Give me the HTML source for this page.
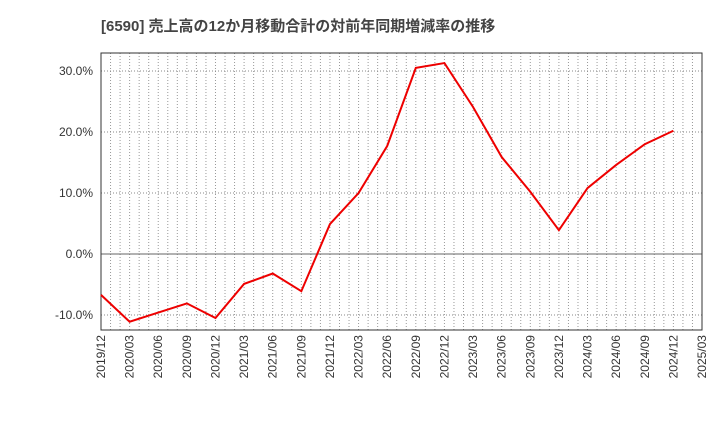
<!DOCTYPE html>
<html><head><meta charset="utf-8"><style>
body{margin:0;background:#fff;font-family:"Liberation Sans","Noto Sans CJK JP",sans-serif}
</style></head><body>
<svg width="720" height="440" xmlns="http://www.w3.org/2000/svg">
<text x="101" y="31" font-size="15" font-weight="bold" fill="#444" font-family="Liberation Sans,Noto Sans CJK JP,sans-serif">[6590]  売上高の12か月移動合計の対前年同期増減率の推移</text>
<g id="grid"></g><g id="axes"></g>
<path id="line" fill="none" stroke="#e00" stroke-width="2"/>
</svg>
<script>
const categories=["2019/12","2020/03","2020/06","2020/09","2020/12","2021/03","2021/06","2021/09","2021/12","2022/03","2022/06","2022/09","2022/12","2023/03","2023/06","2023/09","2023/12","2024/03","2024/06","2024/09","2024/12","2025/03"];
const values=[-6.7,-11.1,-9.6,-8.1,-10.5,-4.9,-3.2,-6.1,4.9,10.0,17.7,30.5,31.3,24.1,15.9,10.2,3.9,10.8,14.6,18.0,20.2];
const yTicks=[-10,0,10,20,30];
const L=101,R=702,T=53,B=330;
const x=i=>L+i*(R-L)/(categories.length-1);
const y=v=>254-v*6.1;
const ns="http://www.w3.org/2000/svg";
const grid=document.getElementById('grid'),axes=document.getElementById('axes');
function mk(tag,a,p){const e=document.createElementNS(ns,tag);for(const k in a)e.setAttribute(k,a[k]);p.appendChild(e);return e;}
for(let m=1;m<(categories.length-1)*3;m++){const xx=L+m*(R-L)/((categories.length-1)*3);
const l=mk('line',{x1:xx,x2:xx,y1:T,y2:B,stroke:'#999','stroke-width':1,'stroke-dasharray':'1,2'},grid);

}
yTicks.forEach(v=>{const l=mk('line',{x1:L,x2:R,y1:y(v),y2:y(v),stroke:v===0?'#666':'#888','stroke-width':1,'stroke-dasharray':v===0?'':'1,2'},grid);


const t=mk('text',{x:L-8,y:y(v)+4,'text-anchor':'end','font-size':12,fill:'#333'},axes);t.textContent=v.toFixed(1)+'%';

});
const f=mk('rect',{x:L,y:T,width:R-L,height:B-T,fill:'none',stroke:'#333','stroke-width':1},axes);


categories.forEach((c,i)=>{const t=mk('text',{transform:`translate(${x(i)+4},${B+5}) rotate(-90)`,'text-anchor':'end','font-size':12,fill:'#333'},axes);t.textContent=c;

});
document.getElementById('line').setAttribute('d',values.map((v,i)=>(i?'L':'M')+x(i)+','+y(v)).join(''));
</script>
</body></html>
